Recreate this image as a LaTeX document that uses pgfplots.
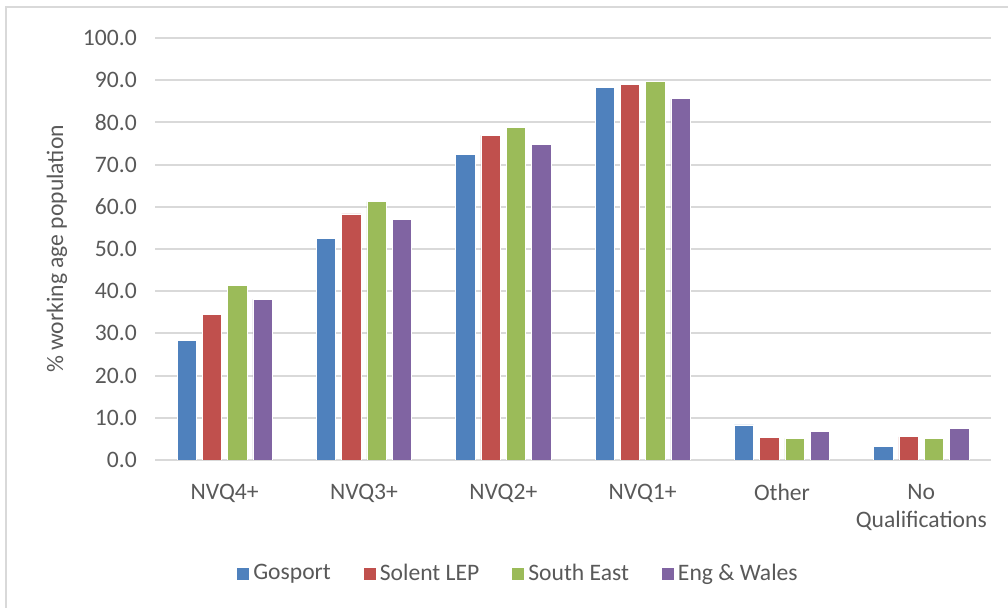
\documentclass[border=0pt]{standalone}
\usepackage{fontspec}
\setmainfont{Carlito}
\usepackage{pgfplots}
\pgfplotsset{compat=1.18}
\definecolor{cA}{HTML}{4F81BD}
\definecolor{cB}{HTML}{C0504D}
\definecolor{cC}{HTML}{9BBB59}
\definecolor{cD}{HTML}{8064A2}
\definecolor{txt}{HTML}{595959}
\definecolor{gridc}{HTML}{D9D9D9}
\begin{document}
\fontsize{11.8}{14}\selectfont
\begin{tikzpicture}
\useasboundingbox (0,0) rectangle (504pt,304pt);
\draw[color=gridc, line width=0.6pt] (3pt,0pt) -- (3pt,300.5pt) -- (504pt,300.5pt);
\begin{axis}[
  at={(77.5pt,74pt)}, anchor=south west,
  scale only axis, width=418pt, height=211pt,
  ymin=0, ymax=100, xmin=-0.5, xmax=5.5,
  ybar=2.95pt, bar width=9.7pt,
  xtick={0,...,5},
  xticklabels={NVQ4+,NVQ3+,NVQ2+,NVQ1+,Other,{No\\Qualifications}},
  xticklabel style={align=center, text=txt, yshift=-8pt, font=\fontsize{11.8}{14}\selectfont},
  ytick={0,10,...,100},
  yticklabel style={text=txt, xshift=-5pt, font=\fontsize{11.8}{14}\selectfont},
  /pgf/number format/.cd, fixed, fixed zerofill, precision=1, assume math mode=true, /pgfplots/.cd,
  ymajorgrids, grid style={gridc, line width=1pt},
  axis line style={draw=none},
  major tick length=0pt,
  ylabel={\% working age population},
  every axis y label/.style={at={(axis description cs:0,0.5)}, xshift=-49pt, rotate=90, anchor=center, text=txt, font=\fontsize{11.8}{14}\selectfont},
  legend style={at={(0.436,-0.270)}, anchor=center, draw=none, legend columns=4,
    font=\fontsize{11.8}{14}\selectfont, text=txt,
    /tikz/every even column/.append style={column sep=14.5pt}},
  legend image code/.code={\fill[#1,draw=none] (0pt,-3pt) rectangle (6pt,3pt);},
]
\addplot[fill=cA, draw=white, line width=0.4pt] coordinates {(0,28.3) (1,52.4) (2,72.5) (3,88.3) (4,8.3) (5,3.3)};
\addplot[fill=cB, draw=white, line width=0.4pt] coordinates {(0,34.4) (1,58.3) (2,76.9) (3,89.0) (4,5.4) (5,5.5)};
\addplot[fill=cC, draw=white, line width=0.4pt] coordinates {(0,41.4) (1,61.2) (2,78.8) (3,89.6) (4,5.1) (5,5.1)};
\addplot[fill=cD, draw=white, line width=0.4pt] coordinates {(0,38.1) (1,57.0) (2,74.7) (3,85.6) (4,6.8) (5,7.5)};
\legend{Gosport, Solent LEP, South East, Eng \& Wales}
\end{axis}
\end{tikzpicture}
\end{document}
